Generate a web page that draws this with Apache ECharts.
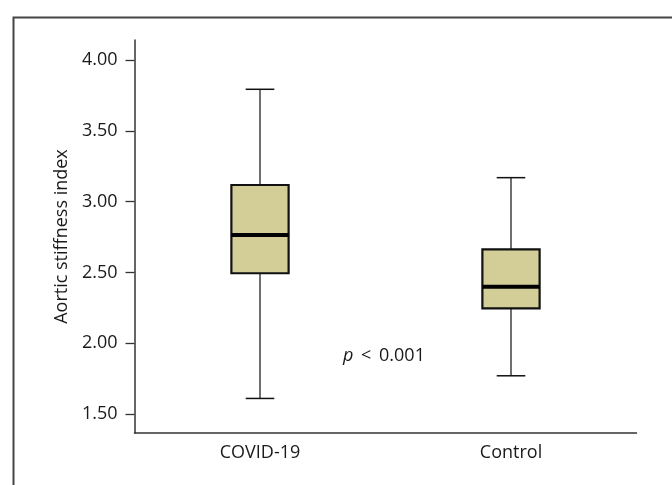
<!DOCTYPE html>
<html>
<head>
<meta charset="utf-8">
<script src="https://cdn.jsdelivr.net/npm/echarts@6/dist/echarts.min.js"></script>
<style>
  html, body { margin: 0; padding: 0; background: #fff; }
  #chart { width: 672px; height: 485px; }
</style>
</head>
<body>
<div id="chart"></div>
<script>
// group names and the five-number summaries
const groups = ['COVID-19', 'Control'];
const whiskerLow = [1.61, 1.77];
const q1 = [2.494, 2.246];
const median = [2.764, 2.399];
const q3 = [3.117, 2.663];
const whiskerHigh = [3.793, 3.169];
const yTicks = [1.5, 2.0, 2.5, 3.0, 3.5, 4.0];

const font = '"Open Sans", "Noto Sans", sans-serif';

let boxData = groups.map((g, i) => [i, whiskerLow[i], q1[i], median[i], q3[i], whiskerHigh[i]]);

function renderBox(params, api) {
    let idx = api.value(0);
    let band = api.size([1, 0])[0];
    let halfBox = band * 0.114;
    let halfCap = halfBox * 0.5;
    let low = api.coord([idx, api.value(1)]);
    let lo = api.coord([idx, api.value(2)]);
    let med = api.coord([idx, api.value(3)]);
    let hi = api.coord([idx, api.value(4)]);
    let high = api.coord([idx, api.value(5)]);
    let x = low[0];
    return {
        type: 'group',
        children: [
            // whiskers
            { type: 'line', shape: { x1: x, y1: high[1], x2: x, y2: hi[1] }, style: { stroke: '#222', lineWidth: 1.3 } },
            { type: 'line', shape: { x1: x, y1: lo[1], x2: x, y2: low[1] }, style: { stroke: '#222', lineWidth: 1.3 } },
            { type: 'line', shape: { x1: x - halfCap, y1: high[1], x2: x + halfCap, y2: high[1] }, style: { stroke: '#111', lineWidth: 1.5 } },
            { type: 'line', shape: { x1: x - halfCap, y1: low[1], x2: x + halfCap, y2: low[1] }, style: { stroke: '#111', lineWidth: 1.5 } },
            // box
            { type: 'rect', shape: { x: x - halfBox, y: hi[1], width: halfBox * 2, height: lo[1] - hi[1] },
              style: { fill: '#D3CE98', stroke: '#111', lineWidth: 2.2 } },
            // median
            { type: 'line', shape: { x1: x - halfBox, y1: med[1], x2: x + halfBox, y2: med[1] }, style: { stroke: '#000', lineWidth: 4 } }
        ]
    };
}

let myChart = echarts.init(document.getElementById('chart'), null, { renderer: 'canvas' });
let option = {
    backgroundColor: '#fff',
    animation: false,
    textStyle: { fontFamily: font },
    grid: { left: 134.5, right: 35.5, top: 40, bottom: 52 },
    xAxis: {
        type: 'category',
        data: groups,
        boundaryGap: true,
        axisLine: { lineStyle: { color: '#333', width: 1.5 } },
        axisTick: { length: 9, lineStyle: { color: '#333', width: 1.5 } },
        axisLabel: { color: '#1a1a1a', fontSize: 18, margin: 11, fontFamily: font },
        splitLine: { show: false }
    },
    yAxis: {
        type: 'value',
        min: 1.366,
        max: 4.141,
        name: 'Aortic stiffness index',
        nameLocation: 'middle',
        nameGap: 64,
        nameTextStyle: { color: '#1a1a1a', fontSize: 18, fontFamily: font },
        axisLine: { show: true, lineStyle: { color: '#333', width: 1.5 } },
        axisTick: { show: true, length: 9, customValues: yTicks, lineStyle: { color: '#333', width: 1.3 } },
        axisLabel: { color: '#1a1a1a', fontSize: 18, margin: 17, fontFamily: font, customValues: yTicks,
            formatter: v => v.toFixed(2) },
        splitLine: { show: false }
    },
    graphic: [
        // outer frame of the figure panel
        { type: 'rect', left: 11, top: 15, shape: { width: 720, height: 520 }, z: -1,
          style: { fill: null, stroke: '#444', lineWidth: 2 } },
        { type: 'text', x: 343, y: 356,
          style: { text: '{i|p} {s|<} 0.001', fill: '#1a1a1a', font: '18px ' + font, verticalAlign: 'middle',
                   rich: {
                       i: { fontStyle: 'italic', fontSize: 18, fontFamily: font },
                       s: { fontSize: 18, fontFamily: font, padding: [0, 3, 0, 3] }
                   } } }
    ],
    series: [
        {
            type: 'custom',
            renderItem: renderBox,
            encode: { x: 0, y: [1, 2, 3, 4, 5] },
            data: boxData
        }
    ]
};
myChart.setOption(option);
</script>
</body>
</html>
